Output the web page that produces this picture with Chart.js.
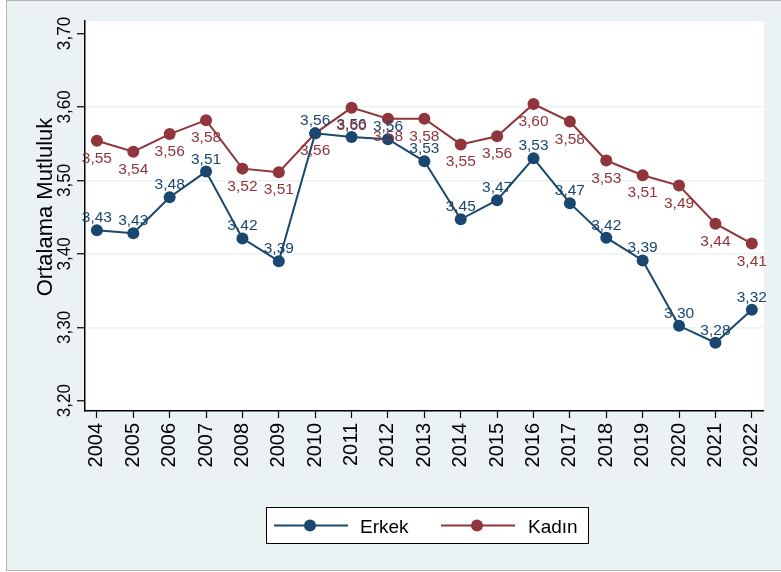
<!DOCTYPE html>
<html>
<head>
<meta charset="utf-8">
<script src="https://cdn.jsdelivr.net/npm/chart.js@4"></script>
<style>
  html, body { margin: 0; padding: 0; background: #fff; }
  #wrap { width: 781px; height: 572px; }
</style>
</head>
<body>
<div id="wrap"><canvas id="lineChart" width="781" height="572"></canvas></div>
<script>
// years on the x axis
var years = [2004, 2005, 2006, 2007, 2008, 2009, 2010, 2011, 2012, 2013,
             2014, 2015, 2016, 2017, 2018, 2019, 2020, 2021, 2022];
// mean happiness, men
var erkek = [3.432, 3.428, 3.477, 3.512, 3.421, 3.390, 3.564, 3.559, 3.556, 3.526,
             3.447, 3.473, 3.530, 3.469, 3.422, 3.391, 3.302, 3.279, 3.324];
// mean happiness, women
var kadin = [3.554, 3.539, 3.563, 3.582, 3.516, 3.511, 3.564, 3.599, 3.584, 3.584,
             3.549, 3.560, 3.604, 3.580, 3.527, 3.507, 3.493, 3.441, 3.414];
// y axis ticks
var yTicks = [3.2, 3.3, 3.4, 3.5, 3.6, 3.7];
var yTitle = 'Ortalama Mutluluk';

var NAVY = '#1a476f';
var MAROON = '#90353b';
var BG = '#eaf2f3';
var FONT = '"Liberation Sans", Arial, sans-serif';

function fmt(v) {
    return v.toFixed(2).replace('.', ',');
}

// background, plot region, y labels, data labels and legend
var stataLook = {
    id: 'stataLook',
    beforeDraw: function (chart) {
        var c = chart.ctx, a = chart.chartArea;
        c.save();
        c.fillStyle = '#fff';
        c.fillRect(0, 0, chart.width, chart.height);
        c.fillStyle = BG;
        c.fillRect(6.5, 0.5, 790, 570);
        c.strokeStyle = '#b4b4b4';
        c.lineWidth = 1;
        c.strokeRect(6.5, 0.5, 790, 570);
        c.fillStyle = '#fff';
        c.fillRect(a.left, a.top, a.right - a.left, a.bottom - a.top);
        c.restore();
    },
    afterDraw: function (chart) {
        var c = chart.ctx, y = chart.scales.y;
        c.save();
        c.fillStyle = '#000';
        // y tick labels, rotated and a bit condensed
        c.font = '19px ' + FONT;
        c.textAlign = 'center';
        c.textBaseline = 'alphabetic';
        yTicks.forEach(function (v) {
            var py = y.getPixelForValue(v);
            c.save();
            c.translate(70, py);
            c.rotate(-Math.PI / 2);
            c.scale(0.9, 1);
            c.fillText(fmt(v), 0, 0);
            c.restore();
        });
        // y title
        c.font = '22px ' + FONT;
        c.save();
        c.translate(52, 207);
        c.rotate(-Math.PI / 2);
        c.fillText(yTitle, 0, 0);
        c.restore();

        // data labels
        c.font = '15.5px ' + FONT;
        c.textAlign = 'center';
        chart.data.datasets.forEach(function (ds, i) {
            var meta = chart.getDatasetMeta(i);
            c.fillStyle = ds.borderColor;
            meta.data.forEach(function (pt, j) {
                var off = i === 0 ? -8 : 22;
                c.fillText(fmt(ds.data[j].y), pt.x, pt.y + off);
            });
        });

        // legend
        c.fillStyle = '#fff';
        c.fillRect(266, 507, 322, 36);
        c.strokeStyle = '#000';
        c.lineWidth = 1;
        c.strokeRect(266.5, 507.5, 322, 36);
        var items = [
            { x: 274, tx: 360, label: 'Erkek', color: NAVY },
            { x: 441, tx: 528, label: 'Kadın', color: MAROON }
        ];
        c.font = '19px ' + FONT;
        c.textAlign = 'left';
        items.forEach(function (it) {
            c.strokeStyle = it.color;
            c.lineWidth = 1.8;
            c.beginPath();
            c.moveTo(it.x, 525.5);
            c.lineTo(it.x + 74, 525.5);
            c.stroke();
            c.fillStyle = it.color;
            c.beginPath();
            c.arc(it.x + 36, 525.5, 6, 0, Math.PI * 2);
            c.fill();
            c.fillStyle = '#000';
            c.fillText(it.label, it.tx, 533);
        });
        c.restore();
    }
};

function toPoints(arr) {
    return arr.map(function (v, i) { return { x: years[i], y: v }; });
}

var ctx = document.getElementById('lineChart').getContext('2d');
var lineChart = new Chart(ctx, {
    type: 'line',
    data: {
        datasets: [{
            label: 'Erkek',
            data: toPoints(erkek),
            borderColor: NAVY,
            backgroundColor: NAVY,
            pointBackgroundColor: NAVY,
            pointBorderColor: NAVY,
            borderWidth: 2,
            pointRadius: 6,
            pointBorderWidth: 0,
            tension: 0
        }, {
            label: 'Kadın',
            data: toPoints(kadin),
            borderColor: MAROON,
            backgroundColor: MAROON,
            pointBackgroundColor: MAROON,
            pointBorderColor: MAROON,
            borderWidth: 2,
            pointRadius: 6,
            pointBorderWidth: 0,
            tension: 0
        }]
    },
    options: {
        responsive: false,
        animation: false,
        devicePixelRatio: 1,
        layout: { padding: { left: 45, right: 11, top: 21, bottom: 101 } },
        plugins: {
            legend: { display: false },
            tooltip: { enabled: false }
        },
        scales: {
            x: {
                type: 'linear',
                min: 2003.673,
                max: 2022.327,
                afterBuildTicks: function (scale) {
                    scale.ticks = years.map(function (v) { return { value: v }; });
                },
                afterFit: function (scale) { scale.height = 60; },
                ticks: {
                    autoSkip: false,
                    minRotation: 90,
                    maxRotation: 90,
                    padding: 5,
                    color: '#000',
                    font: { family: FONT, size: 20 },
                    callback: function (v) { return String(v); }
                },
                grid: {
                    drawOnChartArea: false,
                    drawTicks: true,
                    tickLength: 7,
                    tickColor: '#000',
                    tickWidth: 1.2
                },
                border: { display: true, color: '#000', width: 1.5 }
            },
            y: {
                min: 3.186,
                max: 3.717,
                afterBuildTicks: function (scale) {
                    scale.ticks = yTicks.map(function (v) { return { value: v }; });
                },
                afterFit: function (scale) { scale.width = 40; },
                ticks: { display: false },
                grid: {
                    color: function (c) {
                        var v = c.tick ? c.tick.value : 0;
                        return (v > 3.25 && v < 3.65) ? BG : 'rgba(0,0,0,0)';
                    },
                    lineWidth: 1.5,
                    drawTicks: true,
                    tickLength: 8,
                    tickColor: '#000',
                    tickWidth: 1.2
                },
                border: { display: true, color: '#000', width: 1.5 }
            }
        }
    },
    plugins: [stataLook]
});
</script>
</body>
</html>
